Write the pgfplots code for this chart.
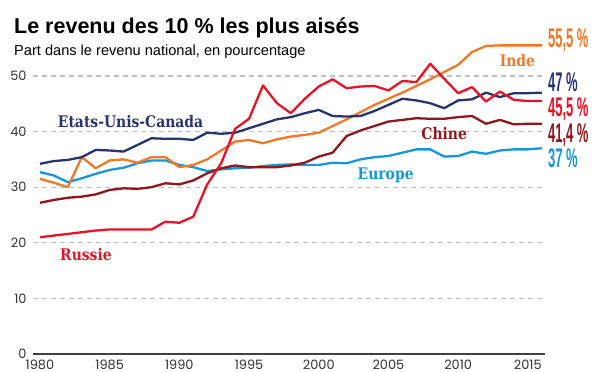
\documentclass[border=0pt]{standalone}
\usepackage{pgfplots}
\pgfplotsset{compat=1.18}
\usepackage{pgfplotstable}
\usepackage{fontspec}
\setmainfont{Liberation Sans}
\newfontfamily\titlefont{Liberation Sans}
\newfontfamily\endfont[FakeStretch=0.48]{Liberation Sans}
\newfontfamily\serieslabel[FakeStretch=0.87]{DejaVu Serif}
\newfontfamily\tickfont{Poppins}

\definecolor{cUS}{RGB}{40,52,110}
\definecolor{cInde}{RGB}{240,120,40}
\definecolor{cRussie}{RGB}{230,20,40}
\definecolor{cChine}{RGB}{140,25,30}
\definecolor{cEurope}{RGB}{25,150,215}

\pgfplotstableread{
year us inde russie chine europe
1980 34.2 31.5 21.0 27.2 32.7
1981 34.7 30.8 21.3 27.7 32.1
1982 34.9 30.0 21.6 28.1 30.9
1983 35.4 35.4 21.9 28.3 31.6
1984 36.7 33.4 22.2 28.7 32.4
1985 36.6 34.8 22.4 29.5 33.1
1986 36.4 35.0 22.4 29.8 33.5
1987 37.6 34.4 22.4 29.7 34.3
1988 38.8 35.4 22.4 30.0 34.8
1989 38.7 35.4 23.8 30.7 34.8
1990 38.7 33.6 23.6 30.5 34.0
1991 38.5 34.0 24.7 31.2 33.6
1992 39.8 35.0 30.5 32.5 32.9
1993 39.6 36.6 34.3 33.4 33.2
1994 39.8 38.2 40.5 33.9 33.4
1995 40.6 38.5 42.3 33.6 33.5
1996 41.4 37.9 48.3 33.6 33.8
1997 42.2 38.6 45.1 33.6 34.0
1998 42.6 39.1 43.3 33.9 34.1
1999 43.3 39.4 45.9 34.4 34.0
2000 43.9 39.8 48.1 35.5 34.0
2001 42.8 41.0 49.4 36.2 34.4
2002 42.7 42.2 47.8 39.2 34.3
2003 42.8 43.5 48.1 40.2 35.0
2004 43.7 44.8 48.2 41.0 35.4
2005 44.8 45.9 47.4 41.8 35.6
2006 45.9 47.0 49.1 42.1 36.2
2007 45.6 48.2 48.9 42.4 36.8
2008 45.1 49.4 52.2 42.3 36.8
2009 44.2 50.7 49.5 42.3 35.5
2010 45.6 52.0 46.9 42.6 35.6
2011 45.8 54.3 48.0 42.8 36.4
2012 47.0 55.4 45.4 41.4 36.0
2013 46.2 55.5 47.2 42.1 36.6
2014 46.9 55.5 45.7 41.3 36.8
2015 46.9 55.5 45.5 41.4 36.8
2016 47.0 55.5 45.5 41.4 37.0
}\data

\begin{document}
\begin{tikzpicture}
\useasboundingbox (0,0) rectangle (600bp,372bp);
\node[anchor=base west, inner sep=0pt, font=\titlefont\bfseries\fontsize{21.5bp}{24bp}\selectfont] at (14bp,338.7bp) {Le revenu des 10~\% les plus aisés};
\node[anchor=base west, inner sep=0pt, font=\fontsize{14.6bp}{16bp}\selectfont] at (14bp,316bp) {Part dans le revenu national, en pourcentage};
\begin{axis}[
  at={(33bp,18bp)}, anchor=south west, scale only axis,
  width=512.1bp, height=311.4bp,
  xmin=1979.5, xmax=2016.24, ymin=0, ymax=56,
  clip=false,
  axis x line*=bottom, axis y line*=left,
  y axis line style={draw=none},
  x axis line style={draw=black!75, line width=1.3bp},
  major tick length=0pt,
  xtick={1980,1985,...,2015}, ytick={0,10,...,50},
  ymajorgrids,
  grid style={draw=black!25, line width=1.1bp, dash pattern=on 5bp off 4bp},
  ticklabel style={font=\tickfont\fontsize{12.9bp}{14bp}\selectfont, text=black!80},
  yticklabel style={xshift=-3bp},
  xticklabel style={yshift=-2bp},
  /pgf/number format/1000 sep={},
  /pgf/number format/assume math mode=true,
  every axis plot/.append style={no markers, line width=2.3bp, line join=round},
]
\addplot[color=cEurope] table[x=year,y=europe]{\data};
\addplot[color=cChine] table[x=year,y=chine]{\data};
\addplot[color=cInde] table[x=year,y=inde]{\data};
\addplot[color=cUS] table[x=year,y=us]{\data};
\addplot[color=cRussie] table[x=year,y=russie]{\data};

\node[anchor=base, inner sep=0pt, text=cUS, font=\serieslabel\bfseries\fontsize{16bp}{18bp}\selectfont] at (axis cs:1986.5,40.8) {Etats-Unis-Canada};
\node[anchor=base, inner sep=0pt, text=cInde, font=\serieslabel\bfseries\fontsize{16bp}{18bp}\selectfont] at (axis cs:2014.25,51.7) {Inde};
\node[anchor=base, inner sep=0pt, text=cChine, font=\serieslabel\bfseries\fontsize{16bp}{18bp}\selectfont] at (axis cs:2009.0,38.5) {Chine};
\node[anchor=base, inner sep=0pt, text=cEurope, font=\serieslabel\bfseries\fontsize{16bp}{18bp}\selectfont] at (axis cs:2004.8,31.3) {Europe};
\node[anchor=base, inner sep=0pt, text=cRussie, font=\serieslabel\bfseries\fontsize{16bp}{18bp}\selectfont] at (axis cs:1983.3,16.9) {Russie};

\node[anchor=base west, inner sep=0pt, text=cInde, font=\endfont\bfseries\fontsize{27bp}{30bp}\selectfont] at (axis cs:2016.44,55.1) {55,5~\%};
\node[anchor=base west, inner sep=0pt, text=cUS, font=\endfont\bfseries\fontsize{27bp}{30bp}\selectfont] at (axis cs:2016.44,47.2) {47~\%};
\node[anchor=base west, inner sep=0pt, text=cRussie, font=\endfont\bfseries\fontsize{27bp}{30bp}\selectfont] at (axis cs:2016.44,42.7) {45,5~\%};
\node[anchor=base west, inner sep=0pt, text=cChine, font=\endfont\bfseries\fontsize{27bp}{30bp}\selectfont] at (axis cs:2016.44,38.1) {41,4~\%};
\node[anchor=base west, inner sep=0pt, text=cEurope, font=\endfont\bfseries\fontsize{27bp}{30bp}\selectfont] at (axis cs:2016.44,33.6) {37~\%};
\end{axis}
\end{tikzpicture}
\end{document}
